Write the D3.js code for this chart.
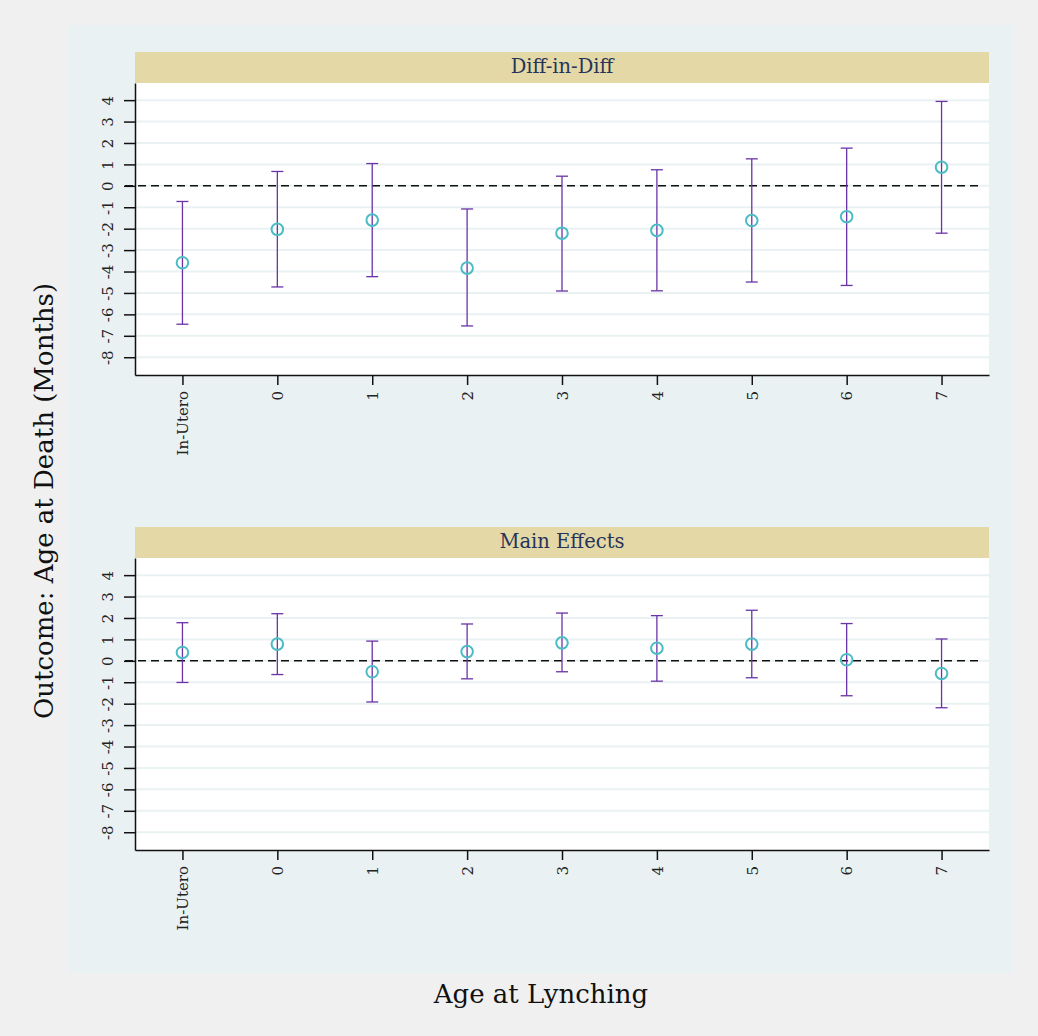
<!DOCTYPE html>
<html>
<head>
<meta charset="utf-8">
<script src="https://cdn.jsdelivr.net/npm/d3@7"></script>
<style>
  body { margin: 0; background: #f0f0f0; }
  svg { display: block; font-family: "DejaVu Serif", serif; }
</style>
</head>
<body>
<div id="chart"></div>
<script>
// age at lynching categories
var categories = ["In-Utero", "0", "1", "2", "3", "4", "5", "6", "7"]
var yTicks = [-8, -7, -6, -5, -4, -3, -2, -1, 0, 1, 2, 3, 4]

// Diff-in-Diff estimates with 95% interval
var didEst   = [-3.59, -2.03, -1.60, -3.84, -2.21, -2.08, -1.62, -1.44, 0.87]
var didLower = [-6.46, -4.72, -4.24, -6.54, -4.91, -4.90, -4.49, -4.65, -2.21]
var didUpper = [-0.73, 0.67, 1.04, -1.08, 0.45, 0.75, 1.26, 1.76, 3.94]

// Main effects estimates with 95% interval
var mainEst   = [0.39, 0.78, -0.51, 0.43, 0.84, 0.59, 0.78, 0.05, -0.59]
var mainLower = [-1.01, -0.64, -1.92, -0.84, -0.51, -0.95, -0.79, -1.63, -2.19]
var mainUpper = [1.78, 2.20, 0.92, 1.72, 2.23, 2.11, 2.36, 1.74, 1.02]

var panels = [
  { title: "Diff-in-Diff", est: didEst, lo: didLower, hi: didUpper },
  { title: "Main Effects", est: mainEst, lo: mainLower, hi: mainUpper }
]

var width = 1038
var height = 1036

var svg = d3.select("#chart")
  .append("svg")
    .attr("width", width)
    .attr("height", height)

svg.append("rect")
  .attr("width", width).attr("height", height)
  .attr("fill", "#f0f0f0")

svg.append("rect")
  .attr("x", 67).attr("y", 25)
  .attr("width", 946).attr("height", 948)
  .attr("fill", "#eaf1f3")

var x = d3.scalePoint()
  .domain(categories)
  .range([135, 989])
  .padding(0.5)

panels.forEach(function(p, i) {
  var off = i * 475
  var top = 83 + off, bottom = 375 + off

  var y = d3.scaleLinear()
    .domain([-8.83, 4.8])
    .range([bottom, top])

  var g = svg.append("g")

  // strip
  g.append("rect")
    .attr("x", 135).attr("y", 52 + off)
    .attr("width", 854).attr("height", 31)
    .attr("fill", "#e4d8a6")
  g.append("text")
    .attr("x", (135 + 989) / 2).attr("y", 73 + off)
    .attr("text-anchor", "middle")
    .attr("font-size", 19.5)
    .attr("fill", "#24345a")
    .text(p.title)

  // plot area
  g.append("rect")
    .attr("x", 135).attr("y", top)
    .attr("width", 854).attr("height", bottom - top)
    .attr("fill", "#ffffff")

  g.selectAll(".grid")
    .data(yTicks)
    .enter()
    .append("line")
      .attr("x1", 135).attr("x2", 989)
      .attr("y1", function(d){ return y(d) })
      .attr("y2", function(d){ return y(d) })
      .attr("stroke", "#eaf1f3")
      .attr("stroke-width", 2)

  // y axis
  var yAxis = g.append("g")
    .attr("transform", "translate(135,0)")
    .call(d3.axisLeft(y).tickValues(yTicks).tickSize(11).tickSizeOuter(0)
      .tickFormat(function(d){ return String(d) }))
  yAxis.select(".domain").attr("stroke", "#111").attr("stroke-width", 1.5)
  yAxis.selectAll(".tick line").attr("stroke", "#111").attr("stroke-width", 1.5)
  yAxis.selectAll(".tick text")
    .attr("font-family", "DejaVu Serif, serif")
    .attr("font-size", 15)
    .attr("fill", "#222")
    .attr("x", null)
    .attr("text-anchor", "middle")
    .attr("transform", "translate(-27,0) rotate(-90)")
    .attr("dy", "0.35em")

  // x axis
  var xAxis = g.append("g")
    .attr("transform", "translate(0," + bottom + ")")
    .call(d3.axisBottom(x).tickSize(10).tickSizeOuter(0))
  xAxis.select(".domain").attr("stroke", "#111").attr("stroke-width", 1.5)
  xAxis.selectAll(".tick line").attr("stroke", "#111").attr("stroke-width", 1.5)
  xAxis.selectAll(".tick text")
    .attr("font-family", "DejaVu Serif, serif")
    .attr("font-size", 15)
    .attr("fill", "#222")
    .attr("y", null)
    .attr("text-anchor", "end")
    .attr("transform", "translate(0,16) rotate(-90)")
    .attr("dy", "0.35em")

  // zero line
  g.append("line")
    .attr("x1", 125).attr("x2", 981)
    .attr("y1", y(0)).attr("y2", y(0))
    .attr("stroke", "#111")
    .attr("stroke-width", 1.5)
    .attr("stroke-dasharray", "8,5")

  // error bars
  var bars = g.selectAll(".bar")
    .data(categories)
    .enter()
    .append("g")

  bars.append("line")
    .attr("x1", function(d){ return x(d) })
    .attr("x2", function(d){ return x(d) })
    .attr("y1", function(d, j){ return y(p.lo[j]) })
    .attr("y2", function(d, j){ return y(p.hi[j]) })
    .attr("stroke", "#6a33a6")
    .attr("stroke-width", 1.3)
  bars.append("line")
    .attr("x1", function(d){ return x(d) - 6 })
    .attr("x2", function(d){ return x(d) + 6 })
    .attr("y1", function(d, j){ return y(p.lo[j]) })
    .attr("y2", function(d, j){ return y(p.lo[j]) })
    .attr("stroke", "#6a33a6")
    .attr("stroke-width", 1.3)
  bars.append("line")
    .attr("x1", function(d){ return x(d) - 6 })
    .attr("x2", function(d){ return x(d) + 6 })
    .attr("y1", function(d, j){ return y(p.hi[j]) })
    .attr("y2", function(d, j){ return y(p.hi[j]) })
    .attr("stroke", "#6a33a6")
    .attr("stroke-width", 1.3)

  bars.append("circle")
    .attr("cx", function(d){ return x(d) })
    .attr("cy", function(d, j){ return y(p.est[j]) })
    .attr("r", 5.8)
    .attr("fill", "none")
    .attr("stroke", "#4bbcc4")
    .attr("stroke-width", 2)
})

// axis titles
svg.append("text")
  .attr("transform", "translate(53,501) rotate(-90)")
  .attr("text-anchor", "middle")
  .attr("font-size", 26)
  .attr("fill", "#111")
  .text("Outcome: Age at Death (Months)")

svg.append("text")
  .attr("x", 541).attr("y", 1003)
  .attr("text-anchor", "middle")
  .attr("font-size", 26)
  .attr("fill", "#111")
  .text("Age at Lynching")
</script>
</body>
</html>
